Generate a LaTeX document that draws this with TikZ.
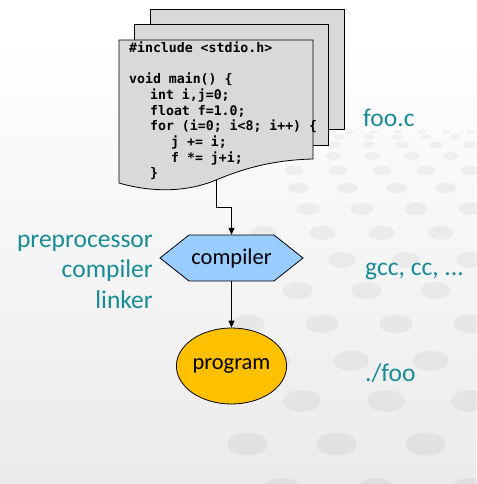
\documentclass[tikz,border=0pt]{standalone}
\usepackage{fontspec}
\setmainfont{Carlito}
\newfontfamily\codefont{DejaVu Sans Mono}
\usetikzlibrary{arrows.meta,shapes.geometric,calc}

\definecolor{noteteal}{RGB}{23,140,150}
\definecolor{pagegray}{RGB}{217,217,217}
\definecolor{hexblue}{RGB}{153,204,255}
\definecolor{progorange}{RGB}{255,192,0}

\begin{document}
\begin{tikzpicture}[x=1pt,y=-1pt,
  page/.style={draw=black, fill=pagegray, line width=0.8pt},
  codeline/.style={anchor=base west, inner sep=0pt,
    font=\codefont\bfseries\fontsize{13.2}{15.6}\selectfont},
  sidenote/.style={text=noteteal, inner sep=0pt,
    font=\fontsize{25.5}{30}\selectfont},
  shapetext/.style={inner sep=0pt, font=\fontsize{22.5}{26}\selectfont},
  flow/.style={draw=black, line width=1pt, -{Triangle[length=7pt,width=6pt]}},
  blot/.style={fill=black, opacity=0.045}]

\useasboundingbox (0,0) rectangle (476,484);

% backdrop: white sky fading into a light grey floor
\fill[white] (0,0) rectangle (476,484);
\shade[top color=white, bottom color=black!8] (0,40) rectangle (476,484);

% receding field of soft dots on the floor, reaching further left in nearer rows
\foreach \r in {0,...,14} {
  \pgfmathsetmacro{\yy}{132 + 3.2*\r + 1.6*\r*\r}
  \pgfmathsetmacro{\sx}{24 + 5*\r}
  \pgfmathsetmacro{\rx}{4.5 + 1.2*\r}
  \pgfmathsetmacro{\ry}{1.8 + 0.75*\r}
  \pgfmathsetmacro{\off}{mod(\r,2)*\sx/2}
  \pgfmathsetmacro{\xmin}{290 - 5*\r}
  \foreach \c in {0,...,9} {
    \pgfmathsetmacro{\xx}{470 - \c*\sx - \off}
    \ifdim\xx pt>\xmin pt
      \fill[blot] (\xx, \yy) ellipse [x radius=\rx, y radius=\ry];
    \fi
  }
}

% stack of source pages
\draw[page] (150,9) rectangle (344,129);
\draw[page] (134,24) rectangle (328,145);
\draw[page] (119,183) -- (119,40) -- (313,40) -- (313,159)
  .. controls (270,160) and (240,170) .. (216,180)
  .. controls (185,193) and (150,192) .. (119,183);
\coordinate (docbot) at (216,180);

% source code on the front page
\node[codeline] (cl1) at (129,53)    {\#include <stdio.h>};
\node[codeline] (cl2) at (129,84)    {void main() \{};
\node[codeline] (cl3) at (150,99.6)  {int i,j=0;};
\node[codeline] (cl4) at (150,115.2) {float f=1.0;};
\node[codeline] (cl5) at (150,130.8) {for (i=0; i<8; i++) \{};
\node[codeline] (cl6) at (171,146.4) {j += i;};
\node[codeline] (cl7) at (171,162)   {f *= j+i;};
\node[codeline] (cl8) at (150,177.6) {\}};

% compiler step (hexagon)
\filldraw[fill=hexblue, draw=black, line width=0.8pt]
  (160,258) -- (189,235) -- (274,235) -- (303,258) -- (274,281) -- (189,281) -- cycle;
\node[shapetext, minimum width=143, minimum height=46] (comp) at (231.5,258) {compiler};

% resulting program
\node[shapetext, ellipse, draw=black, fill=progorange, line width=0.8pt,
  minimum width=103, minimum height=76] (prog) at (231.5,366) {program};

% flow
\draw[flow] (docbot) |- ($(docbot)!.5!(comp.north)$) -| (comp.north);
\draw[flow] (comp.south) -- (prog.north);

% side notes
\node[sidenote, anchor=base east] (pre) at (153,247) {preprocessor};
\node[sidenote, anchor=base east] (cmp) at (153,277) {compiler};
\node[sidenote, anchor=base east] (lnk) at (153,308) {linker};
\node[sidenote, anchor=base west] (fooc) at (363,126) {foo.c};
\node[sidenote, anchor=base west] (gcc)  at (365,275) {gcc, cc, ...};
\node[sidenote, anchor=base west] (run)  at (365,381) {./foo};

\end{tikzpicture}
\end{document}
